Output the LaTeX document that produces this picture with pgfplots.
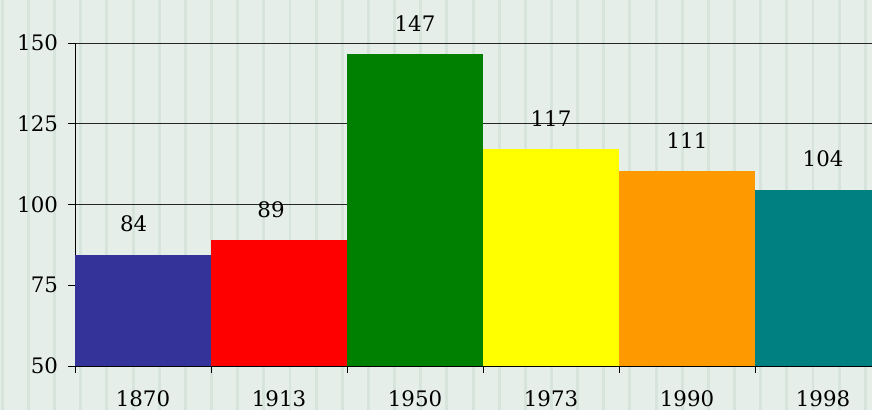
\documentclass[border=0pt]{standalone}
\usepackage{fontspec}
\setmainfont{DejaVu Serif}
\usepackage{pgfplots}
\pgfplotsset{compat=1.18}
\definecolor{bg}{RGB}{229,238,233}
\definecolor{stripe}{RGB}{214,228,220}
\definecolor{cBlue}{RGB}{51,51,153}
\definecolor{cRed}{RGB}{255,0,0}
\definecolor{cGreen}{RGB}{0,128,0}
\definecolor{cYellow}{RGB}{255,255,0}
\definecolor{cOrange}{RGB}{255,153,0}
\definecolor{cTeal}{RGB}{0,128,128}
\begin{document}
\begin{tikzpicture}
\path[use as bounding box, clip] (-56.25pt,-33pt) rectangle (597.75pt,274.5pt);
\fill[bg] (-56.25pt,-33pt) rectangle (597.75pt,274.5pt);
\foreach \k in {-1,...,32} \fill[stripe] ({-34.875pt+\k*19.6125pt-1.1pt},-33pt) rectangle ++(2.2pt,307.5pt);
\begin{axis}[
  at={(0pt,0pt)}, anchor=south west,
  scale only axis, width=597.75pt, height=242.25pt,
  xmin=-0.5, xmax=5.36, ymin=50, ymax=150,
  axis x line*=bottom, axis y line*=left,
  axis line style={-, black, line width=0.6pt},
  ytick={50,75,100,125,150},
  ymajorgrids, grid style={black!85, line width=0.7pt},
  tick align=outside, major tick length=5.25pt,
  tick style={black, line width=0.6pt},
  xtick={0,1,2,3,4,5}, xticklabels={1870,1913,1950,1973,1990,1998},
  major x tick style={draw=none},
  minor xtick={-0.5,0.5,1.5,2.5,3.5,4.5}, minor tick length=5pt,
  /pgf/number format/assume math mode=true,
  tick label style={font=\fontsize{16}{19}\selectfont, black},
  yticklabel style={xshift=-4pt},
  xticklabel style={yshift=-10pt},
  ybar, bar width=1, bar shift=0pt,
  clip=false,
  nodes near coords, point meta=explicit symbolic,
  every node near coord/.append style={font=\fontsize{16}{19}\selectfont, black, yshift=13.5pt},
]
\addplot[fill=cBlue, draw=none, every node near coord/.append style={xshift=-7pt}] coordinates {(0,84.4) [84]};
\addplot[fill=cRed, draw=none, every node near coord/.append style={xshift=-6pt}] coordinates {(1,89.0) [89]};
\addplot[fill=cGreen, draw=none] coordinates {(2,146.6) [147]};
\addplot[fill=cYellow, draw=none] coordinates {(3,117.2) [117]};
\addplot[fill=cOrange, draw=none] coordinates {(4,110.4) [111]};
\addplot[fill=cTeal, draw=none] coordinates {(5,104.5) [104]};
\end{axis}
\end{tikzpicture}
\end{document}
